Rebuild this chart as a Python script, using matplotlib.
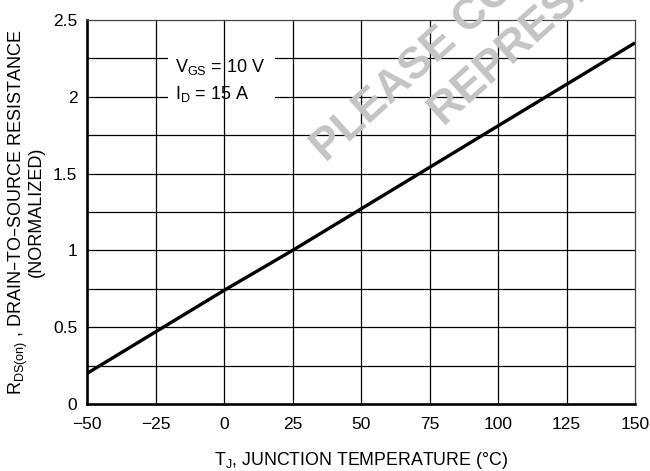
import matplotlib
matplotlib.use("Agg")
import matplotlib.pyplot as plt
from matplotlib.patches import Rectangle

plt.rcParams['font.family'] = ['Liberation Sans', 'DejaVu Sans']
plt.rcParams['mathtext.default'] = 'regular'

# junction temperature (C) vs normalized on-resistance
temp = [-50, -25, 0, 25, 50, 75, 100, 125, 150]
rds_norm = [0.20, 0.47, 0.74, 1.00, 1.27, 1.54, 1.81, 2.08, 2.35]

x_ticks = [-50, -25, 0, 25, 50, 75, 100, 125, 150]
x_labels = ['\u221250', '\u221225', '0', '25', '50', '75', '100', '125', '150']
y_grid = [0.25, 0.5, 0.75, 1.0, 1.25, 1.5, 1.75, 2.0, 2.25]
y_ticks = [0, 0.5, 1, 1.5, 2, 2.5]
y_labels = ['0', '0.5', '1', '1.5', '2', '2.5']

fig = plt.figure(figsize=(6.5, 4.71), dpi=100)
ax = fig.add_axes([0.134, 0.142, 0.843, 0.816])

# horizontal grid first, then a white patch behind the legend text, then vertical grid
for y in y_grid:
    ax.axhline(y, color='black', lw=0.9, zorder=1)
ax.add_patch(Rectangle((-20.6, 1.93), 39.2, 0.42, facecolor='white', edgecolor='none', zorder=1.5))
for x in x_ticks[1:-1]:
    ax.axvline(x, color='black', lw=0.9, zorder=2)

ax.plot(temp, rds_norm, color='black', lw=2.4, zorder=3, solid_capstyle='butt')

ax.text(-17.8, 2.16, r'V$_{GS}$ = 10 V', fontsize=13, va='baseline', ha='left', zorder=4)
ax.text(-17.8, 1.985, r'I$_{D}$ = 15 A', fontsize=13, va='baseline', ha='left', zorder=4)

ax.set_xlim(-50, 150)
ax.set_ylim(0, 2.5)
ax.set_xticks(x_ticks)
ax.set_xticklabels(x_labels)
ax.set_yticks(y_ticks)
ax.set_yticklabels(y_labels)
ax.tick_params(length=0, labelsize=12.5)
ax.tick_params(axis='x', pad=9)
ax.tick_params(axis='y', pad=7)

for s in ['left', 'bottom']:
    ax.spines[s].set_linewidth(1.9)
for s in ['top', 'right']:
    ax.spines[s].set_linewidth(0.9)
    ax.spines[s].set_color('#444444')

ax.set_xlabel(r'T$_{J}$, JUNCTION TEMPERATURE (°C)', fontsize=12.8, labelpad=13)
ax.set_ylabel('R$_{DS(on)}$ , DRAIN\u2013TO\u2013SOURCE RESISTANCE\n(NORMALIZED)',
              fontsize=13, linespacing=0.85, labelpad=6)

# faint watermark, cut by the top edge as in the source sheet
fig.text(0.468, 0.64, 'PLEASE CONTACT', fontsize=32, fontweight='bold', color='#c4c4c4',
         rotation=42, ha='left', va='bottom', zorder=0)
fig.text(0.648, 0.72, 'REPRESENTATIVE', fontsize=32, fontweight='bold', color='#c4c4c4',
         rotation=42, ha='left', va='bottom', zorder=0)

fig.savefig('out.png', dpi=100)
